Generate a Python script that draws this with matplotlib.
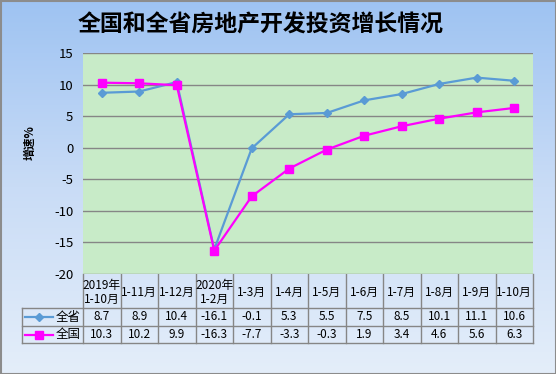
import numpy as np
import matplotlib
matplotlib.use("Agg")
import matplotlib.pyplot as plt
from matplotlib.colors import LinearSegmentedColormap

plt.rcParams["font.family"] = ["Noto Sans CJK SC", "DejaVu Sans"]
plt.rcParams["axes.unicode_minus"] = False

categories = ["2019年\n1-10月", "1-11月", "1-12月", "2020年\n1-2月", "1-3月", "1-4月",
              "1-5月", "1-6月", "1-7月", "1-8月", "1-9月", "1-10月"]
province = [8.7, 8.9, 10.4, -16.1, -0.1, 5.3, 5.5, 7.5, 8.5, 10.1, 11.1, 10.6]
national = [10.3, 10.2, 9.9, -16.3, -7.7, -3.3, -0.3, 1.9, 3.4, 4.6, 5.6, 6.3]
series_names = ["全省", "全国"]
yticks = [15, 10, 5, 0, -5, -10, -15, -20]

W, H = 556, 374
PL, PR, PT, PB = 83, 533, 53, 274  # plot area in pixels
GRID = "#868686"
BLUE = "#5a9bd5"
MAG = "#ff00ff"
LW = 1.6

fig = plt.figure(figsize=(W / 100, H / 100), dpi=100)

# background gradient + table drawn in pixel coordinates
bg = fig.add_axes([0, 0, 1, 1], zorder=0)
bg.set_xlim(0, W)
bg.set_ylim(H, 0)
bg.axis("off")
cmap = LinearSegmentedColormap.from_list("bgc", ["#9ec3f2", "#c9dcf6", "#e4eefa"])
grad = np.linspace(0, 1, 256).reshape(-1, 1)
bg.imshow(grad, cmap=cmap, extent=[0, W, H, 0], aspect="auto")
bg.plot([0.5, W - 0.5, W - 0.5, 0.5, 0.5], [0.5, 0.5, H - 0.5, H - 0.5, 0.5],
        color="#8c8c8c", lw=1.5)

bg.text(261, 25, "全国和全省房地产开发投资增长情况", ha="center", va="center",
        fontsize=16.5, weight="bold", color="black")

# table
n = len(categories)
cw = (PR - PL) / n
r1, r2, r3 = 308, 326, 343
TL = 22
for y in (r1, r2, r3):
    bg.plot([TL, PR], [y, y], color=GRID, lw=1)
bg.plot([TL, TL], [r1, r3], color=GRID, lw=1)
for k in range(n + 1):
    x = PL + cw * k
    bg.plot([x, x], [PB, r3], color=GRID, lw=1)
for i, cat in enumerate(categories):
    cx = PL + cw * (i + 0.5)
    bg.text(cx, (PB + r1) / 2 + 1, cat, ha="center", va="center", fontsize=8.5,
            linespacing=1.1)
    bg.text(cx, (r1 + r2) / 2, f"{province[i]:.1f}", ha="center", va="center", fontsize=8.5)
    bg.text(cx, (r2 + r3) / 2, f"{national[i]:.1f}", ha="center", va="center", fontsize=8.5)

for (name, col, mk, ms), yy in zip(
        [(series_names[0], BLUE, "D", 4.5), (series_names[1], MAG, "s", 5.2)],
        [(r1 + r2) / 2, (r2 + r3) / 2]):
    bg.plot([25, 53], [yy, yy], color=col, lw=LW)
    bg.plot([39], [yy], marker=mk, color=col, ms=ms, mec=col)
    bg.text(56, yy, name, ha="left", va="center", fontsize=9)

bg.text(30, 143, "增速%", rotation=90, ha="center", va="center", fontsize=8.5, weight="bold")

# plot area
ax = fig.add_axes([PL / W, 1 - PB / H, (PR - PL) / W, (PB - PT) / H], zorder=1)
ax.set_facecolor("#c8ebc8")
x = np.arange(n) + 0.5
ax.plot(x, province, color=BLUE, lw=LW, marker="D", ms=4.5, mec=BLUE, zorder=3)
ax.plot(x, national, color=MAG, lw=LW, marker="s", ms=5.2, mec=MAG, zorder=4)
ax.set_xlim(0, n)
ax.set_ylim(-20, 15)
ax.set_yticks(yticks)
ax.set_yticklabels([str(v) for v in yticks], fontsize=9.5)
ax.set_xticks([])
ax.tick_params(axis="y", length=0, pad=7)
for v in yticks:
    ax.axhline(v, color=GRID, lw=1, zorder=1)
for s in ax.spines.values():
    s.set_visible(False)

fig.savefig("out.png", dpi=100)
